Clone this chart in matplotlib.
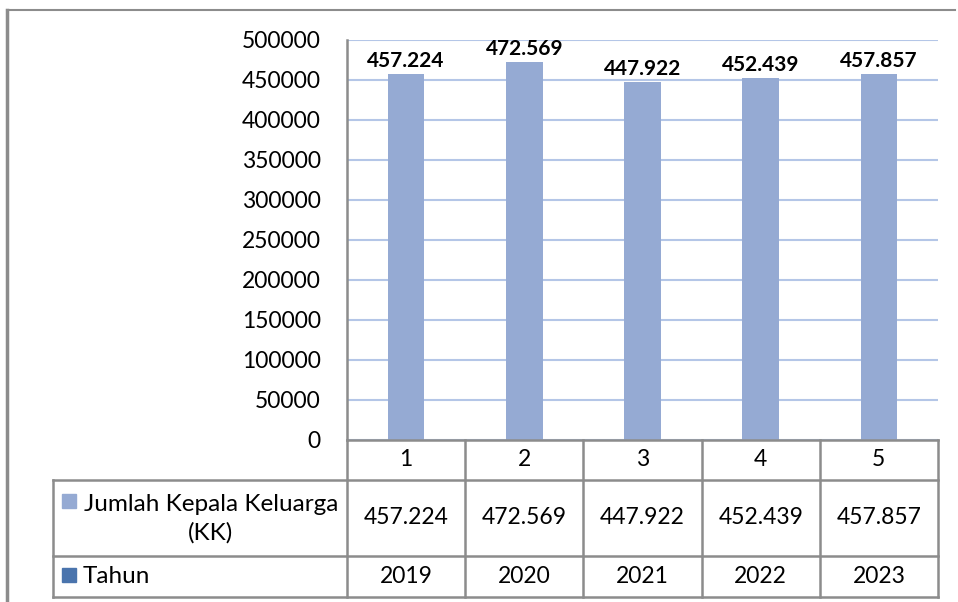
import matplotlib.pyplot as plt
from matplotlib.lines import Line2D
from matplotlib.patches import Rectangle

plt.rcParams['font.family'] = ['Lato', 'DejaVu Sans']

# data
categories = ['1', '2', '3', '4', '5']
jumlah_kk = [457224, 472569, 447922, 452439, 457857]
jumlah_kk_labels = ['457.224', '472.569', '447.922', '452.439', '457.857']
tahun = [2019, 2020, 2021, 2022, 2023]
series_names = ['Jumlah Kepala Keluarga\n(KK)', 'Tahun']
y_ticks = [0, 50000, 100000, 150000, 200000, 250000, 300000, 350000, 400000, 450000, 500000]

bar_color = '#95AAD3'
tahun_color = '#4A74AD'
line_grey = '#8C8C8C'
grid_color = '#B4C6E7'

W, H = 958, 602
fig = plt.figure(figsize=(W / 100, H / 100), dpi=100)

# plot area in pixels
left_px, right_px, top_px, bottom_px = 347, 938, 40, 440
ax = fig.add_axes([left_px / W, 1 - bottom_px / H,
                   (right_px - left_px) / W, (bottom_px - top_px) / H])

x = range(len(categories))
bars = ax.bar(x, jumlah_kk, width=0.31, color=bar_color, zorder=2)
for rect, lab in zip(bars, jumlah_kk_labels):
    ax.annotate(lab, (rect.get_x() + rect.get_width() / 2, rect.get_height()),
                xytext=(0, 2), textcoords='offset points',
                ha='center', va='bottom', fontsize=15, fontweight='bold')

ax.set_xlim(-0.5, len(categories) - 0.5)
ax.set_ylim(0, 500000)
ax.set_yticks(y_ticks)
ax.set_yticklabels([str(t) for t in y_ticks], fontsize=16.5)
ax.tick_params(axis='y', length=0, pad=19)
ax.set_xticks([])
ax.yaxis.grid(True, color=grid_color, linewidth=1.5)
ax.set_axisbelow(True)
for s in ['top', 'right', 'bottom']:
    ax.spines[s].set_visible(False)
ax.spines['left'].set_color(line_grey)
ax.spines['left'].set_linewidth(1.8)

# overlay in pixel coordinates for the frame and data table
ov = fig.add_axes([0, 0, 1, 1])
ov.set_xlim(0, W)
ov.set_ylim(H, 0)
ov.axis('off')
ov.patch.set_visible(False)

def hline(y, x0, x1, lw=1.8):
    ov.add_line(Line2D([x0, x1], [y, y], color=line_grey, linewidth=lw))

def vline(x0, y0, y1, lw=1.8):
    ov.add_line(Line2D([x0, x0], [y0, y1], color=line_grey, linewidth=lw))

# chart frame
hline(10, 7, 955, lw=1.5)
vline(7, 10, H, lw=2.5)

# table grid
col_w = (right_px - left_px) / len(categories)
legend_left = 53
row1, row2, row3, row_end = 440, 480, 555.5, 597
hline(row1, left_px, right_px)
for y in [row2, row3, row_end]:
    hline(y, legend_left, right_px)
vline(legend_left, row2, row_end)
vline(left_px, row1, row_end)
for i in range(1, len(categories) + 1):
    vline(left_px + i * col_w, row1, row_end)

# table contents
table_fs = 16.5
for i, cat in enumerate(categories):
    cx = left_px + (i + 0.5) * col_w
    ov.text(cx, (row1 + row2) / 2, cat, ha='center', va='center', fontsize=table_fs)
    ov.text(cx, (row2 + row3) / 2, jumlah_kk_labels[i], ha='center', va='center', fontsize=table_fs)
    ov.text(cx, (row3 + row_end) / 2, str(tahun[i]), ha='center', va='center', fontsize=table_fs)

# legend keys
ov.add_patch(Rectangle((62, 494), 14, 14, color=bar_color))
ov.text(211, (row2 + row3) / 2 + 1, series_names[0], ha='center', va='center',
        fontsize=17.5, linespacing=1.45)
ov.add_patch(Rectangle((62, 568), 14, 14, color=tahun_color))
ov.text(83, (row3 + row_end) / 2, series_names[1], ha='left', va='center', fontsize=17.5)

fig.savefig('out.png', dpi=100)
